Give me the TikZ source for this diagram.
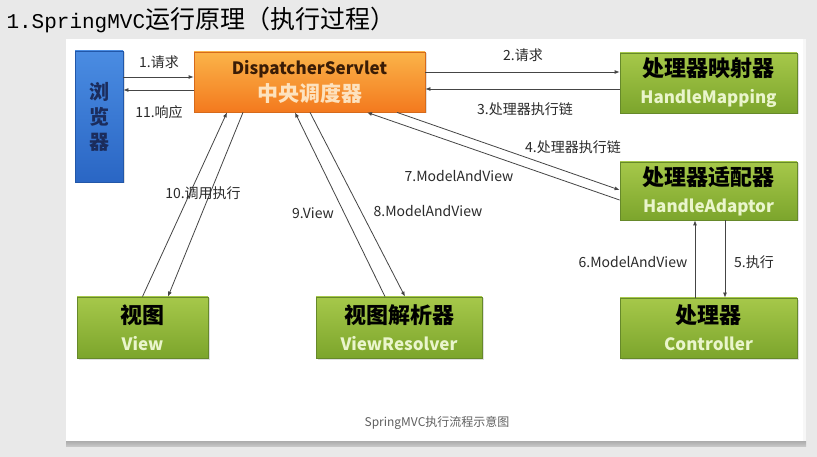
\documentclass[tikz,border=0pt]{standalone}
\usepackage{fontspec}
\setmainfont{Noto Sans CJK SC}
\newfontfamily\titlemono{Liberation Mono}
\usetikzlibrary{calc,arrows.meta,shadows}

\definecolor{gtop}{HTML}{A6C84A}
\definecolor{gbot}{HTML}{7CA52C}
\definecolor{gline}{HTML}{66892A}
\definecolor{gsub}{HTML}{EAF5CC}
\definecolor{otop}{HTML}{FBB449}
\definecolor{obot}{HTML}{F3791E}
\definecolor{oline}{HTML}{D66A1B}
\definecolor{otext}{HTML}{3A1C06}
\definecolor{osub}{HTML}{FDE2BE}
\definecolor{btop}{HTML}{4A8CE2}
\definecolor{bbot}{HTML}{2A66C4}
\definecolor{bline}{HTML}{2257A8}
\definecolor{btext}{HTML}{1B2C5C}
\definecolor{arrowc}{HTML}{454545}
\definecolor{labelc}{HTML}{2A2A2A}
\definecolor{slide}{HTML}{E9E9E9}

\newcommand{\subtxt}[2]{{\color{#1}\fontsize{17}{20}\selectfont #2}}

\tikzset{
  box/.style={draw,line width=0.8pt,inner sep=0pt,align=center,
    drop shadow={opacity=0.25,shadow xshift=1.5pt,shadow yshift=-1.5pt}},
  greenbox/.style={box,draw=gline,top color=gtop,bottom color=gbot,
    font=\fontsize{22}{27}\selectfont\bfseries},
  orangebox/.style={box,draw=oline,top color=otop,bottom color=obot,
    text=otext,font=\fontsize{17}{27}\selectfont\bfseries},
  bluebox/.style={box,draw=bline,top color=btop,bottom color=bbot,
    text=btext,font=\fontsize{20}{25}\selectfont\bfseries},
  arr/.style={draw=arrowc,line width=0.8pt,-{Latex[length=5pt,width=4pt]}},
  lbl/.style={text=labelc,font=\fontsize{14}{16}\selectfont,inner sep=1pt}
}

\begin{document}
\begin{tikzpicture}[x=1pt,y=-1pt]
  \useasboundingbox (0,0) rectangle (817,457);
  % slide and white panel
  \fill[slide] (0,0) rectangle (817,457);
  \fill[gray!6] (803,39) rectangle (806,446);
  \fill[white] (66,39) rectangle (803,441);
  \fill[top color=gray!65,bottom color=gray!45] (66,441) rectangle (806,446);

  \node[anchor=west] (title) at (3,20)
    {{\titlemono\fontsize{21}{24}\selectfont 1.SpringMVC}{\fontsize{25}{28}\selectfont 运行原理（执行过程）}};

  % boxes
  \node[bluebox,minimum width=48pt,minimum height=131pt] (browser) at (99,116.5) {浏\\览\\器};
  \node[orangebox,minimum width=231pt,minimum height=60pt] (ds) at (309.5,82)
    {DispatcherServlet\\{\color{osub}\fontsize{21}{24}\selectfont 中央调度器}};
  \node[greenbox,minimum width=177pt,minimum height=60pt] (hm) at (708.5,83)
    {处理器映射器\\\subtxt{gsub}{HandleMapping}};
  \node[greenbox,minimum width=177pt,minimum height=58pt] (ha) at (708.5,191)
    {处理器适配器\\\subtxt{gsub}{HandleAdaptor}};
  \node[greenbox,minimum width=177pt,minimum height=60pt] (ctrl) at (708.5,328)
    {处理器\\\subtxt{gsub}{Controller}};
  \node[greenbox,minimum width=131pt,minimum height=61pt] (view) at (142.5,327.5)
    {视图\\\subtxt{gsub}{View}};
  \node[greenbox,minimum width=166pt,minimum height=61pt] (vr) at (399,327.5)
    {视图解析器\\\subtxt{gsub}{ViewResolver}};

  % levels of the horizontal arrows
  \coordinate (r1) at (0,77);
  \coordinate (r11) at (0,90);
  \coordinate (r2) at (0,72);
  \coordinate (r3) at (0,89);

  % browser <-> dispatcher
  \draw[arr] (browser.east |- r1) -- (ds.west |- r1);
  \draw[arr] (ds.west |- r11) -- (browser.east |- r11);
  % dispatcher <-> mapping
  \draw[arr] (ds.east |- r2) -- (hm.west |- r2);
  \draw[arr] (hm.west |- r3) -- (ds.east |- r3);
  % dispatcher <-> adaptor
  \draw[arr] ([xshift=87.5pt]ds.south) -- ([yshift=1pt]ha.west);
  \draw[arr] ([yshift=-9pt]ha.west) -- ([xshift=57.5pt]ds.south);
  % adaptor <-> controller
  \draw[arr] ([xshift=16.5pt]ha.south) -- ([xshift=16.5pt]ctrl.north);
  \draw[arr] ([xshift=-13.5pt]ctrl.north) -- ([xshift=-13.5pt]ha.south);
  % dispatcher <-> view resolver
  \draw[arr] ([xshift=0.5pt]ds.south) -- ([xshift=6pt]vr.north);
  \draw[arr] ([xshift=-14pt]vr.north) -- ([xshift=-14.5pt]ds.south);
  % dispatcher <-> view
  \draw[arr] (view.north) -- ([xshift=-82.5pt]ds.south);
  \draw[arr] ([xshift=-66.5pt]ds.south) -- ([xshift=25.5pt]view.north);

  % arrow labels
  \node[lbl] (l1) at (159,62) {1.请求};
  \node[lbl] (l11) at (159,112) {11.响应};
  \node[lbl] (l2) at (523,55) {2.请求};
  \node[lbl] (l3) at (525,109) {3.处理器执行链};
  \node[lbl] (l4) at (573,147) {4.处理器执行链};
  \node[lbl] (l5) at (754,262) {5.执行};
  \node[lbl] (l6) at (633,262) {6.ModelAndView};
  \node[lbl] (l7) at (459,176) {7.ModelAndView};
  \node[lbl] (l8) at (428,211) {8.ModelAndView};
  \node[lbl] (l9) at (313,213) {9.View};
  \node[lbl] (l10) at (203,193) {10.调用执行};

  \node[text=gray!75!black,font=\fontsize{12}{14}\selectfont] (caption) at (437,423)
    {SpringMVC执行流程示意图};
\end{tikzpicture}
\end{document}
